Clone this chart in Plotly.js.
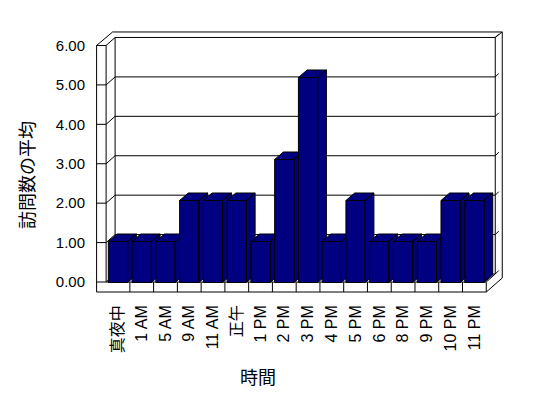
<!DOCTYPE html>
<html>
<head>
<meta charset="utf-8">
<script src="https://cdn.plot.ly/plotly-3.0.1.min.js"></script>
<style>html,body{margin:0;padding:0;background:#fff;}#chart{width:548px;height:398px;}</style>
</head>
<body>
<div id="chart"></div>
<script>
// ---- data ----
const categories = ['真夜中','1 AM','5 AM','9 AM','11 AM','正午','1 PM','2 PM','3 PM','4 PM','5 PM','6 PM','8 PM','9 PM','10 PM','11 PM'];
const values = [1, 1, 1, 2, 2, 2, 1, 3, 5, 1, 2, 1, 1, 1, 2, 2];
const yTickVals = [0, 1, 2, 3, 4, 5, 6];
const yTickText = ['0.00', '1.00', '2.00', '3.00', '4.00', '5.00', '6.00'];
const xTitle = '時間';
const yTitle = '訪問数の平均';

(function () {
// ---- layout geometry ----
const W = 548, H = 398;
const M = {l: 95, r: 43, t: 28, b: 102};
const plotW = W - M.l - M.r, plotH = H - M.t - M.b;
const xRange = [-0.9672, 16.289];
const yRange = [-0.3293, 6.2073];      // bar scale
const y2Range = [-0.3552, 6.4434];     // wall scale
const pxX = plotW / (xRange[1] - xRange[0]);
const pxY = plotH / (yRange[1] - yRange[0]);
const pxY2 = plotH / (y2Range[1] - y2Range[0]);
const ux = p => p / pxX;   // px -> x units
const uy = p => p / pxY;   // px -> bar y units
const uy2 = p => p / pxY2; // px -> wall y units

const n = categories.length;
const xIdx = categories.map((c, i) => i);
const barColor = '#000080';
const bw = 0.812;            // bar front width (category units)
const dXb = ux(8.7), dYb = uy(7.5);   // bar depth

// ---- bars (one trace per bar so later bars cover earlier ones) ----
const traces = [];
xIdx.forEach((xi, i) => {
  const v = values[i];
  const L = xi - bw / 2, R = xi + bw / 2;
  const xs = [L, R, R, L, L, null,
              L, L + dXb, R + dXb, R, L, null,
              R, R + dXb, R + dXb, R, R];
  const ys = [0, 0, v, v, 0, null,
              v, v + dYb, v + dYb, v, v, null,
              0, dYb, v + dYb, v, 0];
  traces.push({
    type: 'scatter', mode: 'lines', x: xs, y: ys, xaxis: 'x', yaxis: 'y',
    fill: 'toself', fillcolor: barColor,
    line: {color: '#000', width: 1}, hoverinfo: 'skip', showlegend: false
  });
});
// invisible trace to activate y2
traces.push({type: 'scatter', mode: 'markers', x: [xIdx[0]], y: [yTickVals[0]], yaxis: 'y2',
  marker: {opacity: 0}, hoverinfo: 'skip', showlegend: false});

// ---- walls / floor (shapes on x / y2) ----
const shapes = [];
const ln = (x0, y0, x1, y1) => shapes.push({type: 'line', xref: 'x', yref: 'y2', x0, y0, x1, y1,
  line: {color: '#000', width: 1}, layer: 'below'});
const E0 = -0.5, E1 = n - 0.5;
const topV = yTickVals[yTickVals.length - 1];
const wallT = ux(9.5), floorT = uy2(10);
const dX = ux(9), dY = uy2(8);
// left wall front face
ln(E0 - wallT, -floorT, E0 - wallT, topV);
ln(E0, 0, E0, topV);
yTickVals.forEach(v => ln(E0 - wallT, v, E0, v));
// gridlines: left wall inner face + back wall
yTickVals.forEach(v => {
  ln(E0, v, E0 + dX, v + dY);
  ln(E0 + dX, v + dY, E1 + dX, v + dY);
  ln(E1 + dX, v + dY, E1 + dX + ux(3.5), v + dY + uy2(3.5));
});
ln(E0 + dX, dY, E0 + dX, topV + dY);
ln(E1 + dX, dY, E1 + dX, topV + dY);
// outer top and right edge
const oX = ux(16), oY = uy2(13.5);
ln(E0 - wallT, topV, E0 - wallT + oX, topV + oY);
ln(E0 - wallT + oX, topV + oY, E1 + oX, topV + oY);
ln(E1 + dX, topV + dY, E1 + oX, topV + oY);
ln(E1 + oX, topV + oY, E1 + oX, uy2(4));
// floor front face
ln(E0 - wallT, -floorT, E1, -floorT);
ln(E0, 0, E1, 0);
ln(E1, 0, E1, -floorT);
for (let k = 0; k < n - 1; k++) ln(xIdx[k] + 0.5, 0, xIdx[k] + 0.5, -floorT);
ln(E1, 0, E1 + dX, dY);
ln(E1, -floorT, E1 + oX, uy2(4));

const fam = 'Liberation Sans, Noto Sans CJK JP, sans-serif';
const cjk = 'Noto Sans CJK JP, sans-serif';

const layout = {
  width: W, height: H,
  margin: M,
  paper_bgcolor: '#fff', plot_bgcolor: 'rgba(0,0,0,0)',
  showlegend: false,
  font: {family: fam, size: 15, color: '#000000'},
  xaxis: {
    range: xRange, showgrid: false, zeroline: false, showline: false,
    tickmode: 'array', tickvals: xIdx, ticktext: categories, tickangle: -90,
    ticks: '', ticklabelstandoff: 5,
    tickfont: {family: fam, size: 16, color: '#000000'}, fixedrange: true
  },
  yaxis: {range: yRange, visible: false, fixedrange: true},
  yaxis2: {
    range: y2Range, overlaying: 'y', side: 'left', showgrid: false, zeroline: false, showline: false,
    tickmode: 'array', tickvals: yTickVals, ticktext: yTickText, ticks: '', ticklabelstandoff: 9,
    tickfont: {family: fam, size: 15, color: '#000000'}, fixedrange: true
  },
  shapes: shapes,
  annotations: [
    {text: xTitle, xref: 'paper', yref: 'paper', x: (258 - M.l) / plotW, y: (M.t + plotH - 376) / plotH,
     xanchor: 'center', yanchor: 'middle', showarrow: false,
     font: {family: cjk, size: 18, color: '#000000'}},
    {text: yTitle, xref: 'paper', yref: 'paper', x: (26 - M.l) / plotW, y: (M.t + plotH - 175) / plotH,
     xanchor: 'center', yanchor: 'middle', showarrow: false, textangle: -90,
     font: {family: cjk, size: 18, color: '#000000'}}
  ]
};

Plotly.newPlot('chart', traces, layout, {displayModeBar: false, staticPlot: true});
})();
</script>
</body>
</html>
